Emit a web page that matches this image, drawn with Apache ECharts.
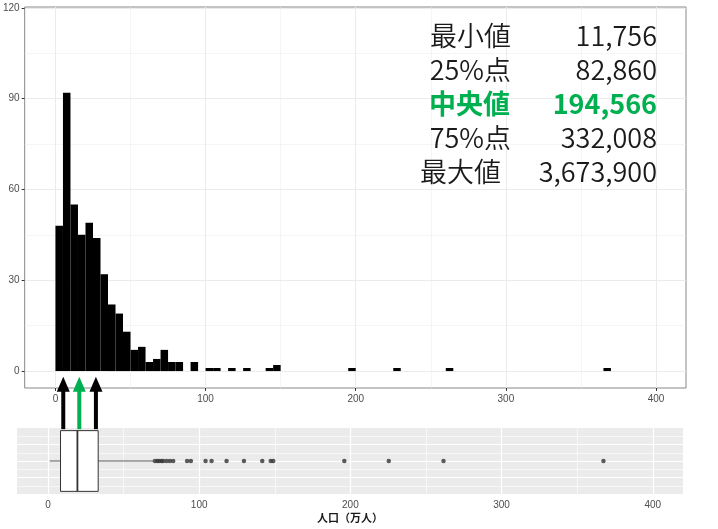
<!DOCTYPE html>
<html lang="ja">
<head>
<meta charset="UTF-8">
<title>人口の分布</title>
<style>
  html, body { margin: 0; padding: 0; background: #fff; }
  #main { width: 718px; height: 529px; }
</style>
<script src="https://cdn.jsdelivr.net/npm/echarts@6/dist/echarts.min.js"></script>
</head>
<body>
<div id="main"></div>
<script>
  // histogram, bin width 5 (万人)
  const binWidth = 5;
  const binStarts = [0, 5, 10, 15, 20, 25, 30, 35, 40, 45, 50, 55, 60, 65, 70, 75, 80,
                     90, 100, 105, 115, 125, 140, 145, 195, 225, 260, 365];
  const binCounts = [48, 92, 55, 45, 49, 44, 32, 22, 19, 13, 7, 8, 3, 4, 7, 3, 3,
                     3, 1, 1, 1, 1, 1, 2, 1, 1, 1, 1];

  // box: lower whisker, Q1, median, Q3, upper whisker (万人)
  const boxStats = [1.1756, 8.286, 19.4566, 33.2008, 69.5];
  const outliers = [70.7, 72.3, 73.5, 75.0, 76.2, 78.4, 80.6, 82.8, 92.0, 94.5,
                    104.2, 108.2, 118.1, 129.6, 141.7, 147.3, 149.0, 196.0, 225.4, 261.6, 367.39];

  // arrows pointing from the box up to the histogram
  const arrowAt = [10.1, 20.7, 31.7];
  const arrowColors = ['#000000', '#00B050', '#000000'];

  // summary table
  const statLabels = ['最小値', '25%点', '中央値', '75%点', '最大値'];
  const statValues = [11756, 82860, 194566, 332008, 3673900];

  const xTicks = [0, 100, 200, 300, 400];
  const xMinor = [50, 150, 250, 350];
  const yTicks = [0, 30, 60, 90, 120];
  const yMinor = [15, 45, 75, 105];

  const chart = echarts.init(document.getElementById('main'));

  const labelRight = [511, 511, 510, 511, 501];
  const table = [];
  statLabels.forEach((lab, i) => {
    const y = 36 + i * 34;
    const hi = i === 2;
    const font = (hi ? 'bold ' : '350 ') + '27px "Noto Sans CJK JP"';
    const fill = hi ? '#00B050' : '#1a1a1a';
    table.push({ type: 'text', x: labelRight[i], y: y, z: 100,
      style: { text: lab, font: font, fill: fill, align: 'right', verticalAlign: 'middle' } });
    table.push({ type: 'text', x: 657, y: y, z: 100,
      style: { text: statValues[i].toLocaleString('en-US'), font: font, fill: fill, align: 'right', verticalAlign: 'middle' } });
  });

  const hidden = { axisLine: { show: false, onZero: false }, axisTick: { show: false }, axisLabel: { show: false } };
  const histLabel = { color: '#4d4d4d', fontSize: 10, fontFamily: 'Liberation Sans' };

  const option = {
    animation: false,
    graphic: table,
    grid: [
      { left: 23, right: 32, top: 7, bottom: 141, show: true, backgroundColor: '#fff',
        borderColor: '#888', borderWidth: 1 },
      { left: 17, right: 35, top: 428, bottom: 35, show: true, backgroundColor: '#ebebeb',
        borderWidth: 0 }
    ],
    xAxis: [
      { gridIndex: 0, type: 'value', min: -20.5, max: 420,
        axisLine: { show: false, onZero: false },
        axisTick: { customValues: xTicks, length: 3, lineStyle: { color: '#333' } },
        axisLabel: Object.assign({ customValues: xTicks, margin: 6 }, histLabel),
        splitLine: { lineStyle: { color: '#ebebeb', width: 1 } } },
      Object.assign({ gridIndex: 0, type: 'value', min: -20.5, max: 420 }, hidden, {
        axisTick: { show: false, customValues: xMinor },
        splitLine: { lineStyle: { color: '#ebebeb', width: 0.5 } } }),
      { gridIndex: 1, type: 'value', min: -20.5, max: 420,
        axisLine: { show: false, onZero: false },
        axisTick: { show: false, customValues: xTicks },
        axisLabel: Object.assign({ customValues: xTicks, margin: 6 }, histLabel),
        splitLine: { lineStyle: { color: '#fff', width: 1.2 } },
        name: '人口（万人）', nameLocation: 'middle', nameGap: 18,
        nameTextStyle: { fontSize: 11, fontWeight: 'bold', color: '#1a1a1a', fontFamily: 'Noto Sans CJK JP' } },
      Object.assign({ gridIndex: 1, type: 'value', min: -20.5, max: 420 }, hidden, {
        axisTick: { show: false, customValues: xMinor },
        splitLine: { lineStyle: { color: '#fff', width: 0.6 } } })
    ],
    yAxis: [
      { gridIndex: 0, type: 'value', min: -5.6, max: 120.3,
        axisLine: { show: false, onZero: false },
        axisTick: { customValues: yTicks, length: 3, lineStyle: { color: '#333' } },
        axisLabel: Object.assign({ customValues: yTicks, margin: 5 }, histLabel),
        splitLine: { lineStyle: { color: '#ebebeb', width: 1 } } },
      Object.assign({ gridIndex: 0, type: 'value', min: -5.6, max: 120.3 }, hidden, {
        axisTick: { show: false, customValues: yMinor },
        splitLine: { lineStyle: { color: '#ebebeb', width: 0.5 } } }),
      Object.assign({ gridIndex: 1, type: 'value', min: 0, max: 4, interval: 1 }, hidden, {
        splitLine: { showMinLine: false, showMaxLine: false, lineStyle: { color: '#fff', width: 1.2 } } }),
      Object.assign({ gridIndex: 1, type: 'value', min: 0, max: 4, interval: 0.5 }, hidden, {
        splitLine: { showMinLine: false, showMaxLine: false, lineStyle: { color: '#fff', width: 0.6 } } })
    ],
    series: [
      {
        type: 'custom', xAxisIndex: 0, yAxisIndex: 0,
        data: binStarts.map((s, i) => [s, binCounts[i]]),
        renderItem: function (params, api) {
          const p1 = api.coord([api.value(0), api.value(1)]);
          const p2 = api.coord([api.value(0) + binWidth, 0]);
          return { type: 'rect', shape: { x: p1[0], y: p1[1], width: p2[0] - p1[0], height: p2[1] - p1[1] },
                   style: { fill: '#000' } };
        }
      },
      {
        type: 'custom', xAxisIndex: 2, yAxisIndex: 2,
        data: [boxStats],
        renderItem: function (params, api) {
          const cy = 2, half = 1.84;
          const lo = api.coord([api.value(0), cy]);
          const q1 = api.coord([api.value(1), cy + half]);
          const md = api.coord([api.value(2), cy - half]);
          const q3 = api.coord([api.value(3), cy - half]);
          const hi = api.coord([api.value(4), cy]);
          const ln = { stroke: '#333', lineWidth: 0.8 };
          return { type: 'group', children: [
            { type: 'line', shape: { x1: lo[0], y1: lo[1], x2: q1[0], y2: lo[1] }, style: ln },
            { type: 'line', shape: { x1: q3[0], y1: hi[1], x2: hi[0], y2: hi[1] }, style: ln },
            { type: 'rect', shape: { x: q1[0], y: q1[1], width: q3[0] - q1[0], height: q3[1] - q1[1] },
              style: { fill: '#fff', stroke: '#333', lineWidth: 1 } },
            { type: 'line', shape: { x1: md[0], y1: q1[1], x2: md[0], y2: md[1] },
              style: { stroke: '#333', lineWidth: 1.8 } }
          ] };
        }
      },
      {
        type: 'scatter', xAxisIndex: 2, yAxisIndex: 2,
        data: outliers.map(v => [v, 2]),
        symbolSize: 4.5,
        itemStyle: { color: '#333' }
      },
      {
        type: 'custom', xAxisIndex: 2, yAxisIndex: 2, z: 10,
        data: arrowAt.map(v => [v, 3.84]),
        renderItem: function (params, api) {
          const p = api.coord([api.value(0), api.value(1)]);
          const x = p[0], yb = p[1] - 1.5, top = yb - 52.5;
          const c = arrowColors[params.dataIndex];
          return { type: 'group', children: [
            { type: 'line', shape: { x1: x, y1: yb, x2: x, y2: top + 13 }, style: { stroke: c, lineWidth: 4 } },
            { type: 'polygon', shape: { points: [[x - 6.5, top + 15], [x + 6.5, top + 15], [x, top]] },
              style: { fill: c } }
          ] };
        }
      }
    ]
  };
  chart.setOption(option);
</script>
</body>
</html>
